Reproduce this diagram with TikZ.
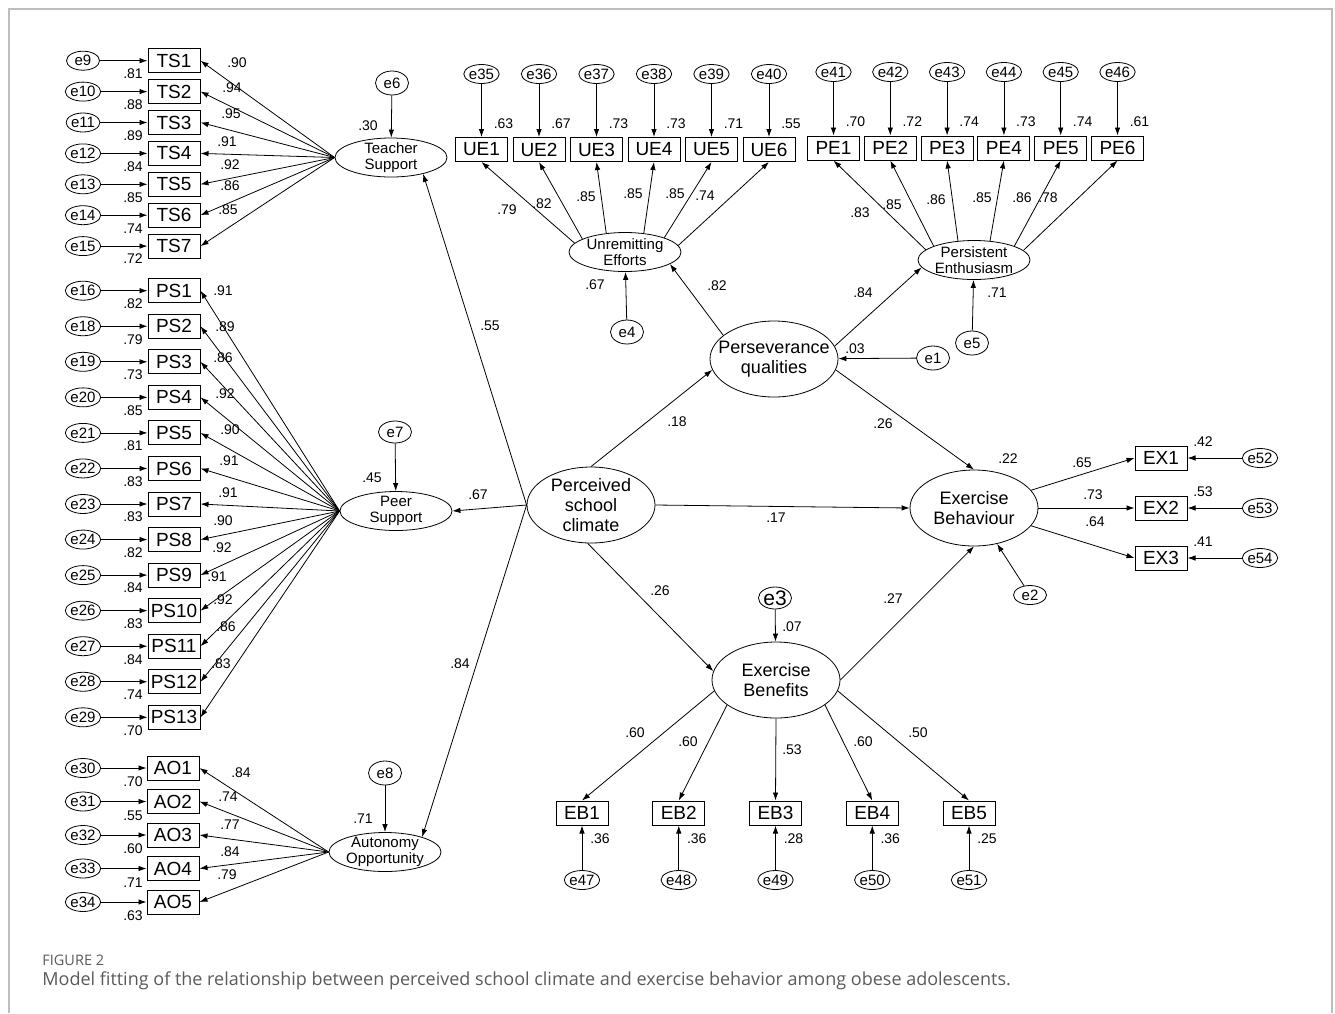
\documentclass[tikz,border=0pt]{standalone}
\usepackage{fontspec}
\setmainfont{Liberation Sans}
\newfontfamily\capfont{Open Sans}
\usepackage{tikz}
\usetikzlibrary{shapes.geometric, arrows.meta, positioning, calc}
\definecolor{FrameGrey}{HTML}{BDBDBD}
\definecolor{CaptionGrey}{HTML}{5A5A5A}

\begin{document}
\begin{tikzpicture}[x=1pt, y=-1pt, >={Latex[length=8pt,width=5.5pt]}, line width=0.8pt]
    \tikzstyle{obs} = [rectangle, draw, line width=1pt, minimum width=52, minimum height=24, inner sep=2pt, font=\fontsize{19}{19}\selectfont]
    \tikzstyle{latent} = [ellipse, draw, align=center, inner xsep=-20pt, inner ysep=-6pt]
    \tikzstyle{latentsm} = [latent, minimum width=112, minimum height=39, font=\fontsize{15}{16}\selectfont]
    \tikzstyle{latentbig} = [latent, minimum width=128, minimum height=76, font=\fontsize{18}{20}\selectfont]
    \tikzstyle{err} = [ellipse, draw, inner xsep=0pt, inner ysep=0pt, minimum width=33, minimum height=19, font=\fontsize{15}{15}\selectfont]
    \tikzstyle{coef} = [inner sep=0pt, font=\fontsize{14}{14}\selectfont]
    \tikzstyle{line} = [draw, ->]

    \useasboundingbox (0,0) rectangle (1335,1013);
    \draw [FrameGrey, line width=1.3pt] (9,1013) -- (9,9) -- (1332,9) -- (1332,1013);

    % first order factors
    \node [latentsm] (teacher) at (391,157.5) {Teacher\\Support};
    \node [latentsm] (peer) at (396,511) {Peer\\Support};
    \node [latentsm] (auton) at (385,852) {Autonomy\\Opportunity};
    \node [latentsm] (unrem) at (625,252) {Unremitting\\Efforts};
    \node [latentsm] (persist) at (974,260) {Persistent\\Enthusiasm};

    % structural part
    \node [latentbig] (climate) at (591,505) {Perceived\\school\\climate};
    \node [latentbig] (persev) at (774,359) {Perseverance\\qualities};
    \node [latentbig] (behav) at (974,508) {Exercise\\Behaviour};
    \node [latentbig] (benef) at (776,680) {Exercise\\Benefits};

    \node [err, minimum height=24] (e1) at (933,358) {e1};
    \node [err] (e2) at (1030,595) {e2};
    \node [err, minimum height=22, font=\fontsize{21}{21}\selectfont] (e3) at (775,598) {e3};
    \node [err, minimum height=24] (e4) at (627,332) {e4};
    \node [err, minimum height=24] (e5) at (972,343) {e5};
    \node [err, minimum height=24] (e6) at (392,83) {e6};
    \node [err, minimum height=22] (e7) at (395,432) {e7};
    \node [err, minimum height=24] (e8) at (385,773) {e8};

    \path [line] (climate.west) -- (teacher.333);
    \path [line] (climate.west) -- (peer.east);
    \path [line] (climate.west) -- (auton.22);
    \path [line] (climate.north) -- (persev.190);
    \path [line] (climate.east) -- (behav.west);
    \path [line] (climate.265) -- (benef.172);
    \path [line] (benef.east) -- (behav.south);
    \path [line] (persev.350) -- (behav.north);
    \path [line] (persev.155) -- (unrem.345);
    \path [line] (persev.12) -- (persist.188);
    \path [line] (e1) -- (persev);
    \path [line] (e2) -- (behav);
    \path [line] (e3) -- (benef);
    \path [line] (e4) -- (unrem);
    \path [line] (e5) -- (persist);
    \path [line] (e6) -- (teacher);
    \path [line] (e7) -- (peer);
    \path [line] (e8) -- (auton);

    \node [coef] (c-ts) at (490,326) {.55};
    \node [coef] (c-ps) at (478,495) {.67};
    \node [coef] (c-ao) at (460,664) {.84};
    \node [coef] (c-pq) at (677,422) {.18};
    \node [coef] (c-pqeb) at (883,424) {.26};
    \node [coef] (c-eb) at (776,518) {.17};
    \node [coef] (c-ben) at (660,591) {.26};
    \node [coef] (c-beneb) at (893,599) {.27};
    \node [coef] (c-ue) at (717,286) {.82};
    \node [coef] (c-pe) at (863,293) {.84};
    \node [coef] (r-pq) at (855,349) {.03};
    \node [coef] (r-eb) at (1008,459) {.22};
    \node [coef] (r-ben) at (792,627) {.07};
    \node [coef] (r-ue) at (595,285) {.67};
    \node [coef] (r-pe) at (997,293) {.71};
    \node [coef] (r-ts) at (368,126) {.30};
    \node [coef] (r-ps) at (372,478) {.45};
    \node [coef] (r-ao) at (363,819) {.71};

    % teacher support items
    \foreach \i/\e/\rs/\ld/\lx/\ly in {1/9/.81/.90/237/63, 2/10/.88/.94/232/88, 3/11/.89/.95/231/114, 4/12/.84/.91/227/142, 5/13/.85/.92/230/165, 6/14/.74/.86/230/186, 7/15/.72/.85/228/210} {
        \pgfmathsetmacro\y{60.7+30.9*(\i-1)}
        \node [obs] (ts\i) at (174,\y) {TS\i};
        \node [err] (e\e) at (83,\y) {e\e};
        \path [line] (e\e) -- (ts\i);
        \path [line] (teacher.west) -- (ts\i.east);
        \node [coef] (r-ts\i) at (133,\y+13) {\rs};
        \node [coef] (l-ts\i) at (\lx,\ly) {\ld};
    }

    % peer support items
    \foreach \i/\e/\rs/\ld/\lx/\ly in {1/16/.82/.91/223/291, 2/18/.79/.89/225/327, 3/19/.73/.86/223/358, 4/20/.85/.92/225/394, 5/21/.81/.90/230/430, 6/22/.83/.91/229/461, 7/23/.83/.91/228/493, 8/24/.82/.90/223/521, 9/25/.84/.92/222/548, 10/26/.83/.91/217/577, 11/27/.84/.92/223/600, 12/28/.74/.86/226/627, 13/29/.70/.83/221/664} {
        \pgfmathsetmacro\y{290.7+35.55*(\i-1)}
        \node [obs] (ps\i) at (174,\y) {PS\i};
        \node [err] (e\e) at (83,\y) {e\e};
        \path [line] (e\e) -- (ps\i);
        \path [line] (peer.west) -- (ps\i.east);
        \node [coef] (r-ps\i) at (133,\y+13) {\rs};
        \node [coef] (l-ps\i) at (\lx,\ly) {\ld};
    }

    % autonomy items
    \foreach \i/\e/\rs/\ld/\lx/\ly in {1/30/.70/.84/241/773, 2/31/.55/.74/228/797, 3/32/.60/.77/230/825, 4/33/.71/.84/230/852, 5/34/.63/.79/227/875} {
        \pgfmathsetmacro\y{768+33.5*(\i-1)}
        \node [obs] (ao\i) at (173,\y) {AO\i};
        \node [err] (e\e) at (83,\y) {e\e};
        \path [line] (e\e) -- (ao\i);
        \path [line] (auton.west) -- (ao\i.east);
        \node [coef] (r-ao\i) at (133,\y+14) {\rs};
        \node [coef] (l-ao\i) at (\lx,\ly) {\ld};
    }

    % unremitting efforts items
    \foreach \i/\e/\rs/\ld/\lx/\ly/\a in {1/35/.63/.79/507/210/170, 2/36/.67/.82/542/204/163, 3/37/.73/.85/586/197/135, 4/38/.73/.85/633/194/45, 5/39/.71/.85/675/194/20, 6/40/.55/.74/705/196/7} {
        \pgfmathsetmacro\x{481.5+57.5*(\i-1)}
        \node [obs] (ue\i) at (\x,149.5) {UE\i};
        \node [err] (e\e) at (\x,74) {e\e};
        \path [line] (e\e) -- (ue\i);
        \path [line] (unrem.\a) -- (ue\i.south);
        \node [coef] (r-ue\i) at (\x+22,124) {\rs};
        \node [coef] (l-ue\i) at (\lx,\ly) {\ld};
    }

    % persistent enthusiasm items
    \foreach \i/\e/\rs/\ld/\lx/\ly/\a in {1/41/.70/.83/860/213/168, 2/42/.72/.85/892/205/161, 3/43/.74/.86/936/200/130, 4/44/.73/.85/982/198/50, 5/45/.74/.86/1022/198/19, 6/46/.61/.78/1048/198/11} {
        \pgfmathsetmacro\x{833.5+56.8*(\i-1)}
        \node [obs] (pe\i) at (\x,148) {PE\i};
        \node [err] (e\e) at (\x,72) {e\e};
        \path [line] (e\e) -- (pe\i);
        \path [line] (persist.\a) -- (pe\i.south);
        \node [coef] (r-pe\i) at (\x+22,122) {\rs};
        \node [coef] (l-pe\i) at (\lx,\ly) {\ld};
    }

    % exercise behaviour items
    \foreach \i/\e/\rs/\ld/\lx/\ly in {1/52/.42/.65/1082/463, 2/53/.53/.73/1093/495, 3/54/.41/.64/1095/522} {
        \pgfmathsetmacro\y{458+50*(\i-1)}
        \node [obs] (ex\i) at (1161,\y) {EX\i};
        \node [err] (e\e) at (1260,\y) {e\e};
        \path [line] (e\e) -- (ex\i);
        \path [line] (behav) -- (ex\i.west);
        \node [coef] (r-ex\i) at (1203,\y-16) {\rs};
        \node [coef] (l-ex\i) at (\lx,\ly) {\ld};
    }

    % exercise benefits items
    \foreach \i/\e/\rs/\ld/\lx/\ly/\a in {1/47/.36/.60/635/733/190, 2/48/.36/.60/688/742/207, 3/49/.28/.53/792/750/270, 4/50/.36/.60/863/742/333, 5/51/.25/.50/918/733/350} {
        \pgfmathsetmacro\x{582+96.75*(\i-1)}
        \node [obs] (eb\i) at (\x,813) {EB\i};
        \node [err] (e\e) at (\x,880) {e\e};
        \path [line] (e\e) -- (eb\i);
        \path [line] (benef.\a) -- (eb\i.north);
        \node [coef] (r-eb\i) at (\x+18,839) {\rs};
        \node [coef] (l-eb\i) at (\lx,\ly) {\ld};
    }

    % caption
    \node [anchor=west, inner sep=0pt, text=CaptionGrey, font=\capfont\fontsize{14.5}{14.5}\selectfont] (figno) at (42,960) {FIGURE 2};
    \node [anchor=west, inner sep=0pt, text=CaptionGrey, font=\capfont\fontsize{18}{20}\selectfont] (caption) at (42,981) {Model fitting of the relationship between perceived school climate and exercise behavior among obese adolescents.};
\end{tikzpicture}
\end{document}
